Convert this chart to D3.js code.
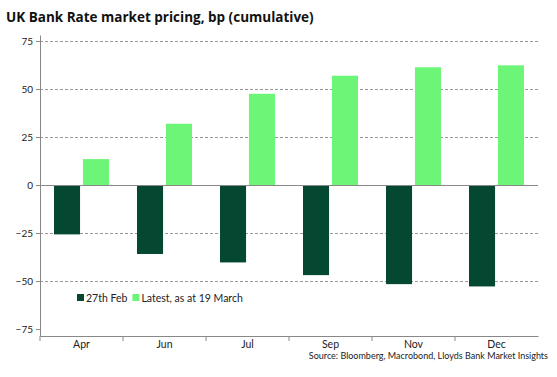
<!DOCTYPE html>
<html>
<head>
<meta charset="utf-8">
<script src="https://cdn.jsdelivr.net/npm/d3@7"></script>
<style>
  body { margin: 0; background: #fff; }
  svg { display: block; font-family: "Lato", "Open Sans", sans-serif; }
</style>
</head>
<body>
<svg id="chart"></svg>
<script>
const months = ["Apr", "Jun", "Jul", "Sep", "Nov", "Dec"];
const feb27 = [-25.7, -35.9, -40.3, -46.9, -51.6, -52.8];
const latest = [13.5, 31.9, 47.5, 56.9, 61.3, 62.3];
const yTicks = [-75, -50, -25, 0, 25, 50, 75];
const seriesNames = ["27th Feb", "Latest, as at 19 March"];
const colors = ["#054832", "#6cf577"];

const width = 557, height = 377;
const margin = {top: 35, right: 19, bottom: 41, left: 40};
const innerW = width - margin.left - margin.right;
const innerH = height - margin.top - margin.bottom;

const svg = d3.select("#chart").attr("width", width).attr("height", height);

svg.append("text")
    .attr("x", 6).attr("y", 22)
    .attr("font-family", "'Open Sans', sans-serif")
    .attr("font-size", "13.5px").attr("font-weight", "bold").attr("fill", "#111")
    .text("UK Bank Rate market pricing, bp (cumulative)");

const chart = svg.append("g").attr("transform", `translate(${margin.left},${margin.top})`);

const x = d3.scaleBand().domain(months).range([0, innerW]);
const x1 = d3.scaleBand().domain([0, 1]).range([14, x.bandwidth() - 14]).paddingInner(0.1);
const y = d3.scaleLinear().domain([-78.6, 78.1]).range([innerH, 0]);

// grid
chart.append("g").selectAll("line")
  .data(yTicks.filter(d => d !== 0 && d !== -75))
  .join("line")
    .attr("x1", 0).attr("x2", innerW)
    .attr("y1", d => Math.round(y(d)) + 0.5).attr("y2", d => Math.round(y(d)) + 0.5)
    .attr("stroke", "#999").attr("stroke-dasharray", "3,2");

// bars
const data = months.map((m, i) => ({m, vals: [feb27[i], latest[i]]}));
const groups = chart.selectAll("g.grp").data(data).join("g")
    .attr("class", "grp")
    .attr("transform", d => `translate(${x(d.m)},0)`);
groups.selectAll("rect").data(d => d.vals).join("rect")
    .attr("x", (d, i) => x1(i))
    .attr("width", x1.bandwidth())
    .attr("y", d => y(Math.max(0, d)))
    .attr("height", d => Math.abs(y(d) - y(0)))
    .attr("fill", (d, i) => colors[i]);

// zero line
chart.append("line")
    .attr("x1", 0).attr("x2", innerW)
    .attr("y1", Math.round(y(0)) + 0.5).attr("y2", Math.round(y(0)) + 0.5)
    .attr("stroke", "#888").attr("stroke-width", 1.2);

// y axis
const yAxis = chart.append("g")
    .call(d3.axisLeft(y).tickValues(yTicks).tickSize(4).tickSizeOuter(0));
yAxis.select(".domain").attr("stroke", "#888");
yAxis.selectAll(".tick line").attr("stroke", "#888");
yAxis.selectAll("text").attr("font-size", "10px").attr("fill", "#222")
    .attr("font-family", "Lato, 'Open Sans', sans-serif").attr("x", -7);

// x axis
const xAxis = chart.append("g").attr("transform", `translate(0,${innerH})`)
    .call(d3.axisBottom(x).tickSize(0).tickSizeOuter(0));
xAxis.select(".domain").attr("stroke", "#888");
xAxis.selectAll("text").attr("font-size", "10.5px").attr("fill", "#222")
    .attr("font-family", "Lato, 'Open Sans', sans-serif").attr("dy", "0.85em");
xAxis.selectAll(".sep").data(months.slice(0, -1).map((m, i) => i === 0 ? 0 : x(m)).concat([x(months[months.length - 1])]))
  .join("line")
    .attr("class", "sep")
    .attr("x1", d => d).attr("x2", d => d)
    .attr("y1", 0).attr("y2", 5)
    .attr("stroke", "#888");

// legend
const legend = svg.append("g").attr("transform", "translate(77,298)");
let lx = 0;
seriesNames.forEach((name, i) => {
  const g = legend.append("g").attr("transform", `translate(${lx},0)`);
  g.append("rect").attr("x", 0).attr("y", -4).attr("width", 7).attr("height", 7).attr("fill", colors[i]);
  const t = g.append("text").attr("x", 9).attr("y", 3.5)
      .attr("font-size", "10.5px").attr("fill", "#222").text(name);
  lx += 9 + t.node().getComputedTextLength() + 5;
});

// source
svg.append("text")
    .attr("x", 548).attr("y", 359)
    .attr("text-anchor", "end")
    .attr("font-size", "9px").attr("fill", "#222")
    .text("Source: Bloomberg, Macrobond, Lloyds Bank Market Insights");
</script>
</body>
</html>
